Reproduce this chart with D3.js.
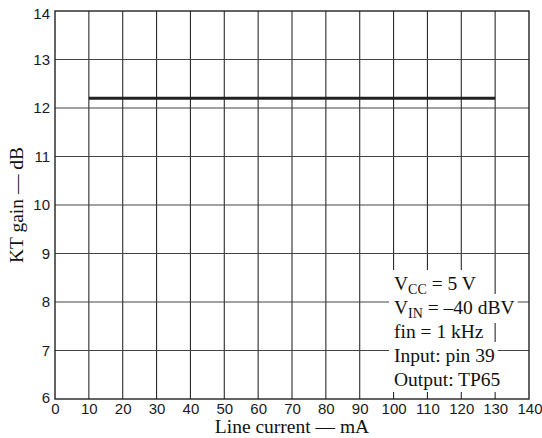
<!DOCTYPE html>
<head>
  <meta charset="utf-8">
  <script src="https://d3js.org/d3.v7.min.js"></script>
  <style>
    body { margin: 0; background: #fff; }
    .title { font-family: "Liberation Serif", "Times New Roman", serif; font-size: 19.5px; fill: #111; }
  </style>
</head>
<body>
<script>

// data
var xTicks = [0, 10, 20, 30, 40, 50, 60, 70, 80, 90, 100, 110, 120, 130, 140]
var yTicks = [6, 7, 8, 9, 10, 11, 12, 13, 14]
var lineCurrent = [10, 130]
var ktGain = [12.2, 12.2]
var notes = [
  ["V", "CC", " = 5 V"],
  ["V", "IN", " = \u201340 dBV"],
  ["fin = 1 kHz", "", ""],
  ["Input: pin 39", "", ""],
  ["Output: TP65", "", ""]
]

var width = 542
var height = 438
var margin = {top : 11, right : 13, bottom : 39, left : 55}

var svg = d3.select("body")
            .append("svg")
            .attr("width", width)
            .attr("height", height)

var x = d3.scaleLinear()
          .domain([0, 140])
          .range([margin.left, width - margin.right])
var y = d3.scaleLinear()
          .domain([6, 14])
          .range([height - margin.bottom, margin.top])

// grid
var grid = svg.append("g")
grid.selectAll("line.v")
    .data(xTicks.slice(1, -1))
    .enter()
    .append("line")
    .attr("x1", function(d) { return x(d) })
    .attr("x2", function(d) { return x(d) })
    .attr("y1", y(6))
    .attr("y2", y(14))
    .attr("stroke", "#2a2a2a")
    .attr("stroke-width", 1.1)
grid.selectAll("line.h")
    .data(yTicks.slice(1, -1))
    .enter()
    .append("line")
    .attr("x1", x(0))
    .attr("x2", x(140))
    .attr("y1", function(d) { return y(d) })
    .attr("y2", function(d) { return y(d) })
    .attr("stroke", "#444")
    .attr("stroke-width", 1.1)

// frame
svg.append("rect")
   .attr("x", x(0))
   .attr("y", y(14))
   .attr("width", x(140) - x(0))
   .attr("height", y(6) - y(14))
   .attr("fill", "none")
   .attr("stroke", "#222")
   .attr("stroke-width", 1.4)

// axes (labels only)
var xAxis = svg.append("g")
   .attr("transform", "translate(0," + y(6) + ")")
   .call(d3.axisBottom(x).tickValues(xTicks).tickSize(0).tickPadding(4))
   .attr("font-size", 15)
   .attr("font-family", "'Liberation Sans', Arial, sans-serif")
xAxis.select(".domain").remove()
xAxis.selectAll(".tick text")
     .attr("fill", "#1a1a1a")
     .filter(function(d) { return d === 140 })
     .attr("text-anchor", "end")
     .attr("dx", "13")

var yAxis = svg.append("g")
   .attr("transform", "translate(" + x(0) + ",0)")
   .call(d3.axisLeft(y).tickValues(yTicks).tickSize(0).tickPadding(5))
   .attr("font-size", 15)
   .attr("font-family", "'Liberation Sans', Arial, sans-serif")
yAxis.select(".domain").remove()
yAxis.selectAll(".tick text")
     .attr("fill", "#1a1a1a")
     .attr("dy", function(d) {
       if (d === 14) return "0.52em"
       if (d === 6) return "0.2em"
       return "0.32em"
     })

// data line
var pts = lineCurrent.map(function(d, i) { return [d, ktGain[i]] })
svg.append("path")
   .datum(pts)
   .attr("d", d3.line().x(function(d) { return x(d[0]) }).y(function(d) { return y(d[1]) }))
   .attr("fill", "none")
   .attr("stroke", "#222")
   .attr("stroke-width", 3)

// annotation, each line on its own white box
var note = svg.append("g")
var lineGap = 24
notes.forEach(function(n, i) {
  var row = note.append("g")
  var box = row.append("rect").attr("fill", "#fff")
  var t = row.append("text")
             .attr("class", "title")
             .attr("x", 394)
             .attr("y", 290 + i * lineGap)
  t.append("tspan").text(n[0])
  if (n[1]) {
    t.append("tspan").attr("dy", 4).style("font-size", "14px").text(n[1])
    t.append("tspan").attr("dy", -4).text(n[2])
  }
  var b = t.node().getBBox()
  box.attr("x", b.x - 5)
     .attr("y", b.y - 3)
     .attr("width", b.width + 8)
     .attr("height", b.height + 5)
})

// axis titles
svg.append("text")
   .attr("class", "title")
   .attr("x", (x(0) + x(140)) / 2)
   .attr("y", 433)
   .attr("text-anchor", "middle")
   .text("Line current \u2014 mA")

svg.append("text")
   .attr("class", "title")
   .attr("transform", "translate(23," + (y(6) + y(14)) / 2 + ") rotate(-90)")
   .attr("text-anchor", "middle")
   .text("KT gain \u2014 dB")

</script>
</body>
